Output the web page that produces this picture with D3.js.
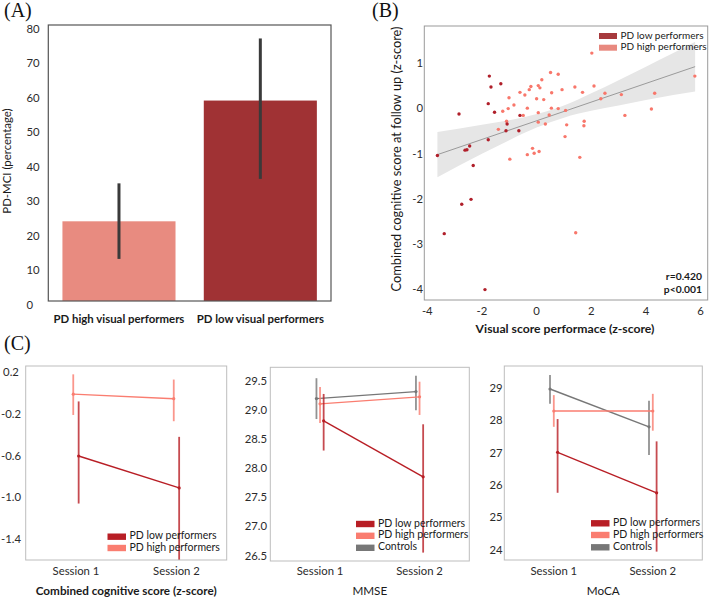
<!DOCTYPE html>
<html><head><meta charset="utf-8">
<script src="https://cdn.jsdelivr.net/npm/d3@7/dist/d3.min.js"></script>
<style>
body{margin:0;background:#fff;}
text{font-family:Lato,"Open Sans",sans-serif;}
</style>
</head><body>
<svg id="chart" width="709" height="599"></svg>
<script>
// ---------- Panel A data ----------
const barCategories = ["PD high visual performers", "PD low visual performers"];
const barValues = [23.1, 58.1];
const barCiLow = [12.2, 35.4];
const barCiHigh = [34.1, 76.1];
const barTicks = [0, 10, 20, 30, 40, 50, 60, 70, 80];

// ---------- Panel B data ----------
const lowPerfX = [-3.63,-2.84,-1.73,-1.67,-1.31,-1.77,-1.54,-1.77,-1.08,-1.12,-0.61,-0.65,-2.62,-2.55,-2.45,-2.32,-2.74,-2.40,-3.38,-1.89];
const lowPerfY = [-1.02,-0.10,0.74,0.50,0.57,0.13,-0.06,-0.67,-0.32,-0.47,-0.13,-0.47,-0.90,-0.89,-0.81,-1.24,-2.10,-1.99,-2.75,-3.99];
const highPerfX = [-1.10,-1.40,-1.24,-1.01,-1.04,-0.83,-0.98,-0.61,-0.43,-0.49,-0.34,-0.27,-0.21,-0.34,-0.15,-0.09,0.00,0.06,0.12,0.09,0.06,0.06,0.19,0.26,0.32,0.46,0.51,0.55,0.54,0.79,0.79,0.93,1.06,1.04,1.10,1.40,1.68,1.74,1.73,1.58,1.43,2.02,2.10,2.35,2.50,3.10,3.23,4.20,4.32,5.79];
const highPerfY = [-0.26,-0.44,-0.04,0.26,0.02,0.10,-1.10,0.38,0.32,-0.13,0.03,0.44,0.51,-1.00,-0.86,-0.97,0.24,0.53,0.48,-0.93,-0.07,-0.28,0.66,0.22,-0.32,-0.12,0.82,0.37,0.03,0.78,0.02,0.44,-0.02,-0.60,-0.34,0.50,0.38,-0.26,-0.36,-1.06,-2.73,1.25,0.52,0.24,0.36,0.33,-0.13,0.01,0.36,0.74];
const regX = [-3.63, 5.80];
const regY = [-1.00, 0.95];
const bandX  = [-3.63,-2,-1,0,1,2,3,4,5,5.8];
const bandLo = [-1.50,-0.98,-0.68,-0.40,-0.18,-0.03,0.09,0.21,0.32,0.40];
const bandHi = [-0.50,-0.34,-0.24,-0.10,0.09,0.36,0.65,0.95,1.25,1.50];
const scatterXTicks = [-4,-2,0,2,4,6];
const scatterYTicks = [1,0,-1,-2,-3,-4];
const statsText = ["r=0.420", "p<0.001"];

// ---------- Panel C data ----------
const sessions = ["Session 1", "Session 2"];
const combLowMean = [-0.594, -0.90], combLowLo = [-1.05, -1.70], combLowHi = [-0.07, -0.41];
const combHighMean = [0.00, -0.044], combHighLo = [-0.20, -0.26], combHighHi = [0.19, 0.14];
const combTicks = [0.2, -0.2, -0.6, -1.0, -1.4];
const mmseCtrlMean = [29.21, 29.33], mmseCtrlLo = [28.86, 29.01], mmseCtrlHi = [29.56, 29.60];
const mmseHighMean = [29.12, 29.24], mmseHighLo = [28.79, 28.93], mmseHighHi = [29.41, 29.50];
const mmseLowMean = [28.83, 27.87], mmseLowLo = [28.32, 26.57], mmseLowHi = [29.29, 28.77];
const mmseTicks = [29.5, 29.0, 28.5, 28.0, 27.5, 27.0, 26.5];
const mocaCtrlMean = [29.00, 27.83], mocaCtrlLo = [28.54, 26.96], mocaCtrlHi = [29.43, 28.64];
const mocaHighMean = [28.32, 28.32], mocaHighLo = [27.83, 27.71], mocaHighHi = [28.81, 28.85];
const mocaLowMean = [27.04, 25.79], mocaLowLo = [25.79, 23.97], mocaLowHi = [28.07, 27.38];
const mocaTicks = [29, 28, 27, 26, 25, 24];

const svg = d3.select("#chart");
const tickColor = "#2b2b2b";

// panel letters
[["(A)", 4, 17], ["(B)", 372, 17], ["(C)", 4, 350]].forEach(([t, x, y]) => {
  svg.append("text").attr("x", x).attr("y", y).text(t)
    .style("font-family", "'Liberation Serif','Times New Roman',serif").style("font-size", "20px").attr("fill", "#111");
});

// ================= Panel A =================
{
  const L = 48.3, R = 331, T = 25, B = 301;
  const x = d3.scaleBand().domain(barCategories).range([L, R]).paddingInner(0.2).paddingOuter(0.1);
  const y = d3.scaleLinear().domain([0, 80]).range([B, T]);
  const g = svg.append("g");
  const colors = ["#e88b80", "#a03234"];
  g.selectAll("rect.bar").data(barCategories).join("rect")
    .attr("x", d => x(d)).attr("width", x.bandwidth())
    .attr("y", (d, i) => y(barValues[i])).attr("height", (d, i) => y(0) - y(barValues[i]))
    .attr("fill", (d, i) => colors[i]);
  g.selectAll("line.err").data(barCategories).join("line")
    .attr("x1", d => x(d) + x.bandwidth() / 2).attr("x2", d => x(d) + x.bandwidth() / 2)
    .attr("y1", (d, i) => y(barCiLow[i])).attr("y2", (d, i) => y(barCiHigh[i]))
    .attr("stroke", "#3a3a3a").attr("stroke-width", 3);
  g.append("rect").attr("x", L).attr("y", T).attr("width", R - L).attr("height", B - T)
    .attr("fill", "none").attr("stroke", "#555").attr("stroke-width", 1.2);
  g.selectAll("text.yt").data(barTicks).join("text")
    .attr("x", 26.5).attr("y", d => y(d) + 4.7).attr("dominant-baseline", "middle")
    .attr("font-size", 11.3).attr("fill", tickColor).text(d => d);
  g.selectAll("text.xt").data(barCategories).join("text")
    .attr("x", d => x(d) + x.bandwidth() / 2).attr("y", 323)
    .attr("text-anchor", "middle").attr("font-size", 11.4).attr("font-weight", "bold").attr("fill", "#1a1a1a").text(d => d);
  g.append("text").attr("transform", "translate(11,161) rotate(-90)").attr("text-anchor", "middle")
    .attr("font-size", 11.4).attr("fill", "#1a1a1a").text("PD-MCI (percentage)");
}

// ================= Panel B =================
{
  const L = 424.3, R = 707.7, T = 26, B = 300;
  const x = d3.scaleLinear().domain([-4.11, 6.26]).range([L, R]);
  const y = d3.scaleLinear().domain([1.85, -4.22]).range([T, B]);
  const g = svg.append("g");
  const band = bandX.map((v, i) => ({x: v, lo: bandLo[i], hi: bandHi[i]}));
  g.append("path").datum(band)
    .attr("d", d3.area().x(d => x(d.x)).y0(d => y(d.lo)).y1(d => y(d.hi)).curve(d3.curveMonotoneX))
    .attr("fill", "#e6e6e6");
  g.append("path").datum(regX.map((v, i) => [v, regY[i]]))
    .attr("d", d3.line().x(d => x(d[0])).y(d => y(d[1])))
    .attr("stroke", "#9a9a9a").attr("stroke-width", 1).attr("fill", "none");
  g.selectAll("circle.hi").data(highPerfX).join("circle")
    .attr("cx", d => x(d)).attr("cy", (d, i) => y(highPerfY[i])).attr("r", 1.7).attr("fill", "#f8776b");
  g.selectAll("circle.lo").data(lowPerfX).join("circle")
    .attr("cx", d => x(d)).attr("cy", (d, i) => y(lowPerfY[i])).attr("r", 1.7).attr("fill", "#b01f2a");
  g.append("rect").attr("x", L).attr("y", T).attr("width", R - L).attr("height", B - T)
    .attr("fill", "none").attr("stroke", "#9a9a9a").attr("stroke-width", 1);
  g.selectAll("text.xt").data(scatterXTicks).join("text")
    .attr("x", d => x(d)).attr("y", 312.5).attr("dominant-baseline", "middle").attr("text-anchor", "middle")
    .attr("font-size", 11.3).attr("fill", tickColor).text(d => d < 0 ? "-" + Math.abs(d) : d);
  g.selectAll("text.yt").data(scatterYTicks).join("text")
    .attr("x", 423).attr("y", d => y(d)).attr("dominant-baseline", "middle").attr("text-anchor", "end")
    .attr("font-size", 11.3).attr("fill", tickColor).text(d => d < 0 ? "-" + Math.abs(d) : d);
  g.append("text").attr("transform", "translate(401,159) rotate(-90)").attr("text-anchor", "middle")
    .attr("font-size", 12.8).attr("fill", "#1a1a1a").text("Combined cognitive score at follow up (z-score)");
  g.append("text").attr("x", 565).attr("y", 333).attr("text-anchor", "middle")
    .attr("font-size", 12.2).attr("font-weight", "bold").attr("fill", "#1a1a1a").text("Visual score performace (z-score)");
  // legend
  const leg = [["PD low performers", "#a63a3d"], ["PD high performers", "#e8897f"]];
  leg.forEach(([t, c], i) => {
    g.append("rect").attr("x", 599).attr("y", 33 + i * 11.7).attr("width", 18).attr("height", 6).attr("fill", c);
    g.append("text").attr("x", 620.5).attr("y", 36 + i * 11.7).attr("dominant-baseline", "middle")
      .attr("font-size", 10).attr("fill", "#1a1a1a").text(t);
  });
  statsText.forEach((t, i) => {
    g.append("text").attr("x", 702).attr("y", 277 + i * 13).attr("dominant-baseline", "middle").attr("text-anchor", "end")
      .attr("font-size", 10.3).attr("font-weight", "bold").attr("fill", "#1a1a1a").text(t);
  });
}

// ================= Panel C =================
const cLow = "#b81e25", cHigh = "#fa7d70", cCtrl = "#777777";
let clipId = 0;
function pointPanel(opt) {
  const {L, R, T, B, yDomain, ticks, tickFmt, series, legendX, legendRows, title, tickX, tickAnchor, dodge} = opt;
  const g = svg.append("g");
  const x = d3.scalePoint().domain(sessions).range([L, R]).padding(0.5);
  const y = d3.scaleLinear().domain(yDomain).range([B, T]);
  const id = "clip" + (clipId++);
  g.append("clipPath").attr("id", id).append("rect").attr("x", L).attr("y", T).attr("width", R - L).attr("height", B - T);
  const pg = g.append("g").attr("clip-path", `url(#${id})`);
  const n = series.length;
  series.forEach((s, k) => {
    const off = (k - (n - 1) / 2) * dodge;
    const pts = sessions.map((d, i) => ({x: x(d) + off, m: s.mean[i], lo: s.lo[i], hi: s.hi[i]}));
    pg.selectAll(null).data(pts).join("line")
      .attr("x1", d => d.x).attr("x2", d => d.x).attr("y1", d => y(d.lo)).attr("y2", d => y(d.hi))
      .attr("stroke", s.color).attr("stroke-width", 1.8).attr("opacity", 0.8);
    pg.append("path").datum(pts).attr("d", d3.line().x(d => d.x).y(d => y(d.m)))
      .attr("stroke", s.color).attr("stroke-width", 1.4).attr("fill", "none");
    pg.selectAll(null).data(pts).join("circle").attr("cx", d => d.x).attr("cy", d => y(d.m)).attr("r", 1.6).attr("fill", s.color);
  });
  g.append("rect").attr("x", L).attr("y", T).attr("width", R - L).attr("height", B - T)
    .attr("fill", "none").attr("stroke", "#bdbdbd").attr("stroke-width", 1);
  g.selectAll(null).data(ticks).join("text")
    .attr("x", tickX).attr("y", d => y(d)).attr("dominant-baseline", "middle").attr("text-anchor", tickAnchor)
    .attr("font-size", 11.3).attr("fill", tickColor).text(tickFmt);
  g.selectAll(null).data(sessions).join("text")
    .attr("x", d => x(d)).attr("y", 572.5).attr("dominant-baseline", "middle").attr("text-anchor", "middle")
    .attr("font-size", 11.3).attr("fill", tickColor).text(d => d);
  g.append("text").attr("x", (L + R) / 2).attr("y", 592).attr("dominant-baseline", "middle").attr("text-anchor", "middle")
    .attr("font-size", 11.7).attr("font-weight", title.bold ? "bold" : "normal").attr("fill", "#1a1a1a").text(title.text);
  legendRows.forEach((r, i) => {
    g.append("rect").attr("x", legendX).attr("y", r.y - 3.2).attr("width", 18.5).attr("height", 6.4).attr("fill", r.color);
    g.append("text").attr("x", legendX + 22).attr("y", r.y).attr("dominant-baseline", "middle")
      .attr("font-size", 10.5).attr("fill", "#1a1a1a").text(r.label);
  });
}
const fmtSigned1 = d => (d < 0 ? "-" : "") + Math.abs(d).toFixed(1);

pointPanel({
  L: 25.7, R: 226.7, T: 366, B: 560, yDomain: [-1.592, 0.27], ticks: combTicks, tickFmt: fmtSigned1,
  tickX: 11, tickAnchor: "middle", dodge: 5.4,
  series: [
    {mean: combHighMean, lo: combHighLo, hi: combHighHi, color: cHigh},
    {mean: combLowMean, lo: combLowLo, hi: combLowHi, color: cLow}
  ],
  legendX: 107.5,
  legendRows: [{label: "PD low performers", color: cLow, y: 536.7}, {label: "PD high performers", color: cHigh, y: 548}],
  title: {text: "Combined cognitive score (z-score)", bold: true}
});
pointPanel({
  L: 270.3, R: 469.3, T: 367.3, B: 561, yDomain: [26.426, 29.747], ticks: mmseTicks, tickFmt: d => d.toFixed(1),
  tickX: 267, tickAnchor: "end", dodge: 3.6,
  series: [
    {mean: mmseCtrlMean, lo: mmseCtrlLo, hi: mmseCtrlHi, color: cCtrl},
    {mean: mmseHighMean, lo: mmseHighLo, hi: mmseHighHi, color: cHigh},
    {mean: mmseLowMean, lo: mmseLowLo, hi: mmseLowHi, color: cLow}
  ],
  legendX: 356,
  legendRows: [{label: "PD low performers", color: cLow, y: 524}, {label: "PD high performers", color: cHigh, y: 535.8},
               {label: "Controls", color: cCtrl, y: 547.8}],
  title: {text: "MMSE", bold: false}
});
pointPanel({
  L: 504.3, R: 702.3, T: 366, B: 560, yDomain: [23.711, 29.711], ticks: mocaTicks, tickFmt: d => d,
  tickX: 502.5, tickAnchor: "end", dodge: 3.8,
  series: [
    {mean: mocaCtrlMean, lo: mocaCtrlLo, hi: mocaCtrlHi, color: cCtrl},
    {mean: mocaHighMean, lo: mocaHighLo, hi: mocaHighHi, color: cHigh},
    {mean: mocaLowMean, lo: mocaLowLo, hi: mocaLowHi, color: cLow}
  ],
  legendX: 591,
  legendRows: [{label: "PD low performers", color: cLow, y: 523.3}, {label: "PD high performers", color: cHigh, y: 535},
               {label: "Controls", color: cCtrl, y: 547.3}],
  title: {text: "MoCA", bold: false}
});
</script>
</body></html>
